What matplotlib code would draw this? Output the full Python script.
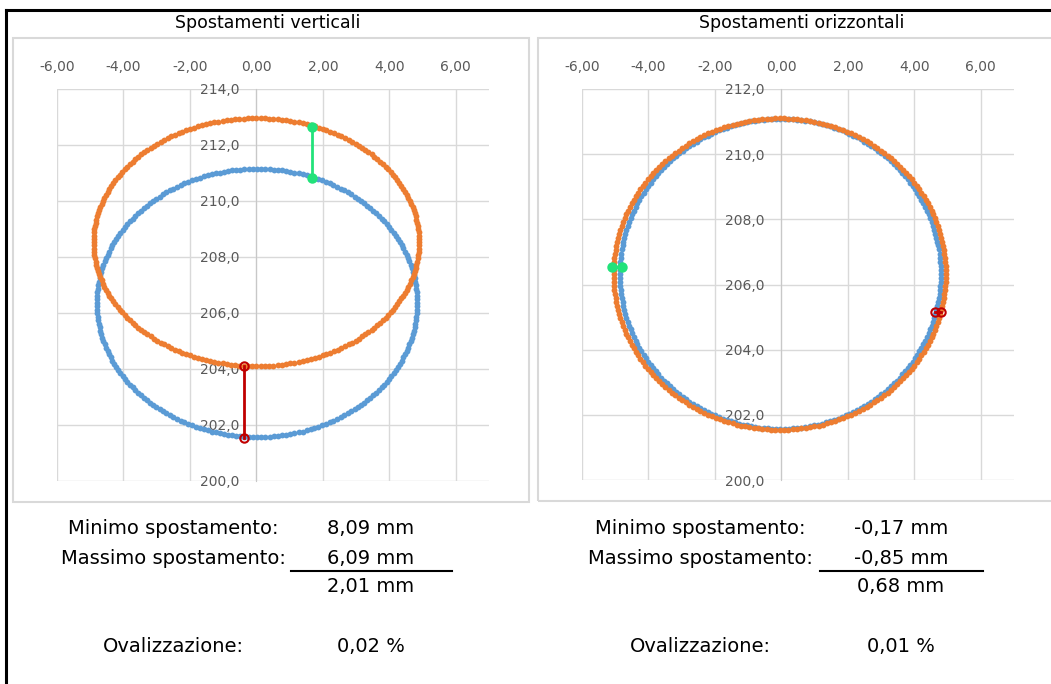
import numpy as np
import matplotlib
matplotlib.use("Agg")
import matplotlib.pyplot as plt
from matplotlib.lines import Line2D
from matplotlib.patches import Rectangle
from matplotlib.ticker import FuncFormatter

# ring survey: centre (x, y) and semi-axes (rx, ry) of each ring, mm
vert_before = dict(cx=0.02, cy=206.36, rx=4.82, ry=4.79)
vert_after = dict(cx=0.00, cy=208.53, rx=4.90, ry=4.43)
horiz_before = dict(cx=-0.03, cy=206.33, rx=4.83, ry=4.76)
horiz_after = dict(cx=-0.05, cy=206.32, rx=5.00, ry=4.78)
n_points = 240

# measured min / max displacement segments (x0, y0, x1, y1)
vert_min_seg = [1.66, 212.64, 1.66, 210.82]
vert_max_seg = [-0.36, 204.11, -0.36, 201.54]
horiz_min_seg = [-5.10, 206.54, -4.80, 206.54]
horiz_max_seg = [4.62, 205.16, 4.80, 205.16]

vert_labels = ["8,09 mm", "6,09 mm", "2,01 mm", "0,02 %"]
horiz_labels = ["-0,17 mm", "-0,85 mm", "0,68 mm", "0,01 %"]

BLUE = "#5b9bd5"
ORANGE = "#ed7d31"
RED = "#c00000"
GREEN = "#22e27a"
GRID = "#d9d9d9"

W, H = 1051, 684
fig = plt.figure(figsize=(W / 100, H / 100), dpi=100)


def box(x0, y0, x1, y1):
    return [x0 / W, 1 - y1 / H, (x1 - x0) / W, (y1 - y0) / H]


def ring(p):
    t = np.linspace(0, 2 * np.pi, n_points, endpoint=False)
    return p["cx"] + p["rx"] * np.cos(t), p["cy"] + p["ry"] * np.sin(t)


def setup(ax, ymax):
    ax.set_facecolor("none")
    ax.set_xlim(-6, 7)
    ax.set_ylim(200, ymax)
    ax.set_xticks(np.arange(-6, 7, 2))
    ax.set_yticks(np.arange(200, ymax + 0.1, 2))
    ax.xaxis.set_major_formatter(FuncFormatter(lambda v, p: f"{v:.2f}".replace(".", ",")))
    ax.yaxis.set_major_formatter(FuncFormatter(lambda v, p: f"{v:.1f}".replace(".", ",")))
    ax.xaxis.tick_top()
    ax.grid(True, color=GRID, lw=1.0, zorder=0)
    for s in ["top", "right", "bottom"]:
        ax.spines[s].set_visible(False)
    ax.spines["left"].set_position(("data", 0))
    ax.spines["left"].set_color("#c8c8c8")
    ax.tick_params(axis="x", length=0, pad=11, labelsize=10, labelcolor="#595959")
    ax.tick_params(axis="y", length=0, pad=12, labelsize=10, labelcolor="#595959")
    ax.set_axisbelow(True)


def draw(ax, before, after, seg_a, seg_b, seg_a_col, seg_b_col):
    x, y = ring(before)
    ax.plot(x, y, "o", ms=4.2, mew=0, color=BLUE, zorder=3)
    x, y = ring(after)
    ax.plot(x, y, "o", ms=4.2, mew=0, color=ORANGE, zorder=4)
    for seg, col in [(seg_a, seg_a_col), (seg_b, seg_b_col)]:
        ax.plot([seg[0], seg[2]], [seg[1], seg[3]], "-", color=col, lw=2.0, zorder=5)
        ax.plot([seg[0], seg[2]], [seg[1], seg[3]], "o", ms=6, mew=1.5, mec=col,
                mfc=col if col == GREEN else "none", zorder=6)


ax1 = fig.add_axes(box(57, 89, 489, 481))
setup(ax1, 214)
draw(ax1, vert_before, vert_after, vert_min_seg, vert_max_seg, GREEN, RED)

ax2 = fig.add_axes(box(582, 89, 1014, 480))
setup(ax2, 212)
draw(ax2, horiz_before, horiz_after, horiz_min_seg, horiz_max_seg, GREEN, RED)

# chart frames
for x0, y0, x1, y1 in [(13, 38, 529, 502), (538, 38, 1054, 501)]:
    fig.add_artist(Rectangle((x0 / W, 1 - y1 / H), (x1 - x0) / W, (y1 - y0) / H,
                             transform=fig.transFigure, fill=False, ec=GRID, lw=1.5))

# sheet border
fig.add_artist(Line2D([6 / W, 1], [1 - 10 / H, 1 - 10 / H], transform=fig.transFigure,
                      color="black", lw=2.2))
fig.add_artist(Line2D([6 / W, 6 / W], [0, 1 - 10 / H], transform=fig.transFigure,
                      color="black", lw=2.2))

fig.text(268 / W, 1 - 23 / H, "Spostamenti verticali", ha="center", va="center", fontsize=12.5)
fig.text(802 / W, 1 - 23 / H, "Spostamenti orizzontali", ha="center", va="center", fontsize=12.5)

names = ["Minimo spostamento:", "Massimo spostamento:", None, "Ovalizzazione:"]
rows_y = [529, 559, 587, 647]
for lx, vx, ux0, ux1, vals in [(173, 371, 291, 452, vert_labels), (700, 901, 820, 983, horiz_labels)]:
    for name, val, yy in zip(names, vals, rows_y):
        if name:
            fig.text(lx / W, 1 - yy / H, name, ha="center", va="center", fontsize=14)
        fig.text(vx / W, 1 - yy / H, val, ha="center", va="center", fontsize=14)
    fig.add_artist(Line2D([ux0 / W, ux1 / W], [1 - 571 / H, 1 - 571 / H],
                          transform=fig.transFigure, color="black", lw=1.5))

fig.savefig("out.png", dpi=100)
